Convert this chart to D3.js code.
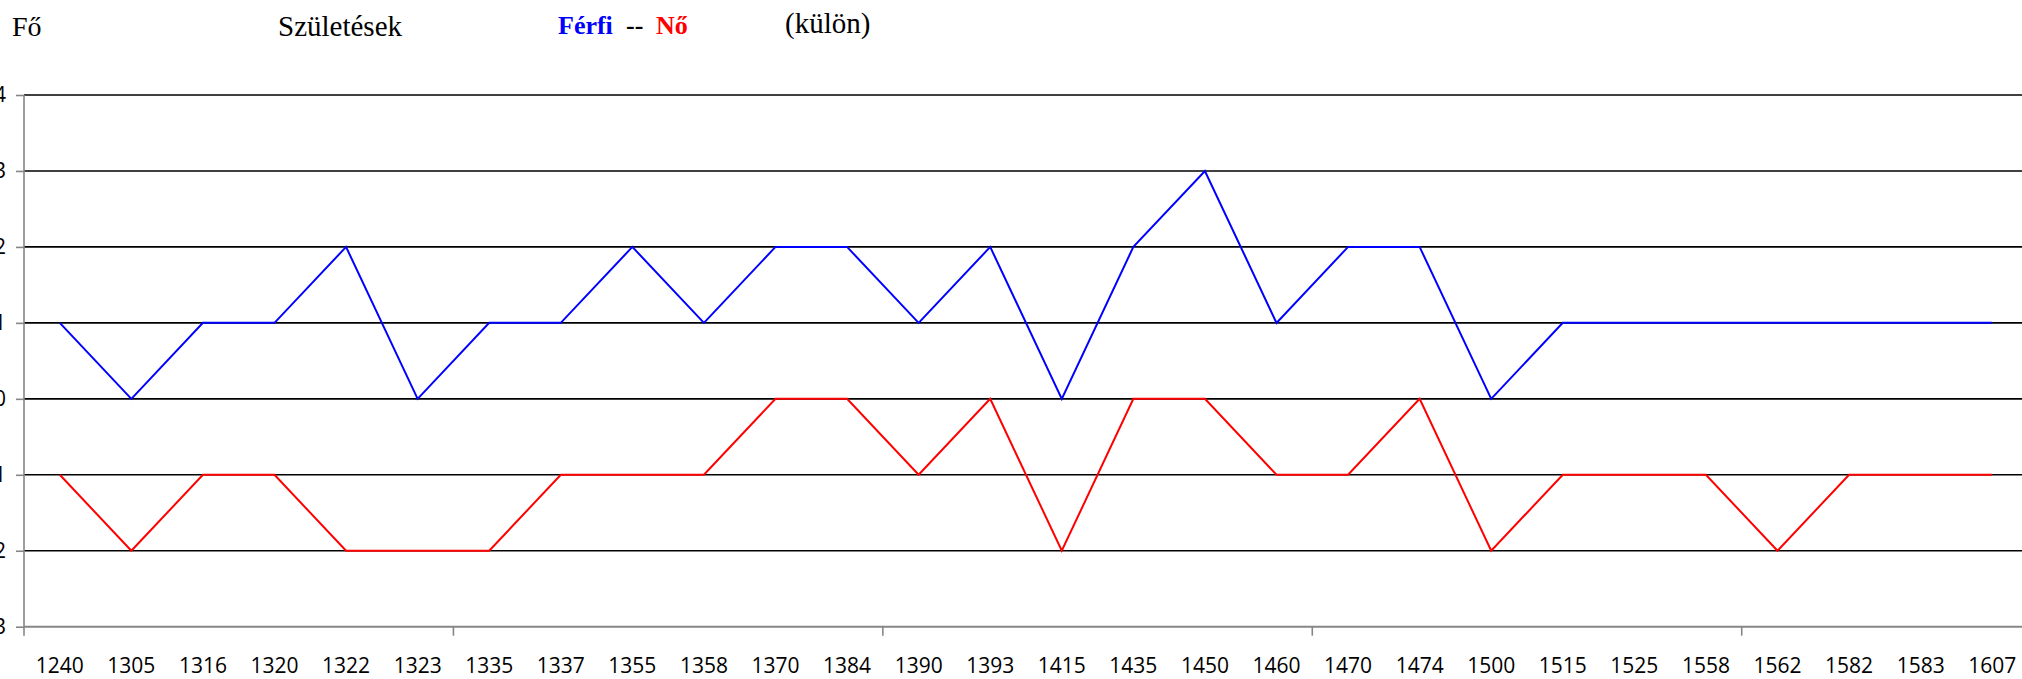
<!DOCTYPE html>
<html>
<head>
<meta charset="utf-8">
<script src="https://cdn.jsdelivr.net/npm/d3@7"></script>
<style>
  html, body { margin: 0; padding: 0; background: #fff; overflow: hidden; }
  svg { display: block; }
</style>
</head>
<body>
<svg id="chart" width="2022" height="679"></svg>
<script>
// Births per year, men (positive) and women (negative)
const years = [1240, 1305, 1316, 1320, 1322, 1323, 1335, 1337, 1355, 1358, 1370, 1384, 1390, 1393,
               1415, 1435, 1450, 1460, 1470, 1474, 1500, 1515, 1525, 1558, 1562, 1582, 1583, 1607];
const ferfi = [1, 0, 1, 1, 2, 0, 1, 1, 2, 1, 2, 2, 1, 2, 0, 2, 3, 1, 2, 2, 0, 1, 1, 1, 1, 1, 1, 1];
const no    = [-1, -2, -1, -1, -2, -2, -2, -1, -1, -1, 0, 0, -1, 0, -2, 0, 0, -1, -1, 0, -2, -1, -1, -1, -2, -1, -1, -1];
const yTicks = [-3, -2, -1, 0, 1, 2, 3, 4];

const svg = d3.select("#chart");
const W = 2022;
const plotLeft = 24, plotTop = 95, plotBottom = 626.7;

const x = d3.scaleBand().domain(years).range([plotLeft, 2028]).paddingInner(0).paddingOuter(0);
const y = d3.scaleLinear().domain([-3, 4]).range([plotBottom, plotTop]);

// horizontal gridlines
svg.append("g").selectAll("line")
  .data(yTicks.filter(v => v > -3))
  .join("line")
  .attr("x1", plotLeft).attr("x2", W)
  .attr("y1", d => y(d)).attr("y2", d => y(d))
  .attr("stroke", "#000").attr("stroke-width", 1.6);

// y axis: gray line, short ticks, labels running past the left edge of the page
const yAxis = d3.axisLeft(y).tickValues(yTicks).tickSize(8).tickFormat(d3.format("d"));
const gy = svg.append("g").attr("transform", `translate(${plotLeft},0)`).call(yAxis);
gy.select(".domain").remove();
gy.selectAll(".tick line").attr("stroke", "#868686").attr("stroke-width", 1.6);
gy.selectAll(".tick text")
  .attr("x", -18)
  .attr("font-family", "'Open Sans', sans-serif").attr("font-size", 21).attr("fill", "#000");
svg.append("line")
  .attr("x1", plotLeft).attr("x2", plotLeft).attr("y1", plotTop).attr("y2", plotBottom + 9)
  .attr("stroke", "#868686").attr("stroke-width", 1.6);

// x axis: gray baseline with tick marks every sixth category boundary
svg.append("line")
  .attr("x1", plotLeft).attr("x2", W).attr("y1", plotBottom).attr("y2", plotBottom)
  .attr("stroke", "#868686").attr("stroke-width", 2);
const boundaries = years.filter((d, i) => i > 0 && i % 6 === 0);
svg.append("g").selectAll("line")
  .data(boundaries)
  .join("line")
  .attr("x1", d => x(d)).attr("x2", d => x(d))
  .attr("y1", plotBottom).attr("y2", plotBottom + 9)
  .attr("stroke", "#868686").attr("stroke-width", 1.6);

const xAxis = d3.axisBottom(x).tickSize(0).tickPadding(0);
const gx = svg.append("g").attr("transform", `translate(0,${plotBottom})`).call(xAxis);
gx.select(".domain").remove();
gx.selectAll(".tick text")
  .attr("y", 46).attr("dy", null)
  .attr("font-family", "'Open Sans', sans-serif").attr("font-size", 21).attr("fill", "#000");

// series lines
const line = d3.line().x((d, i) => x(years[i]) + x.bandwidth() / 2).y(d => y(d));
svg.append("path").datum(ferfi).attr("d", line)
  .attr("fill", "none").attr("stroke", "#0000ff").attr("stroke-width", 2);
svg.append("path").datum(no).attr("d", line)
  .attr("fill", "none").attr("stroke", "#ff0000").attr("stroke-width", 2);

// heading texts
const serif = "'Liberation Serif', 'Times New Roman', serif";
svg.append("text").attr("x", 12).attr("y", 36).attr("font-family", serif).attr("font-size", 28).text("Fő");
svg.append("text").attr("x", 278).attr("y", 36).attr("font-family", serif).attr("font-size", 29).text("Születések");
const leg = svg.append("text").attr("x", 558).attr("y", 34).attr("font-family", serif).attr("font-size", 26);
leg.append("tspan").attr("font-weight", "bold").attr("fill", "#0000ff").text("Férfi");
leg.append("tspan").attr("x", 626).attr("font-weight", "bold").attr("fill", "#000").text("--");
leg.append("tspan").attr("x", 656).attr("font-weight", "bold").attr("fill", "#ff0000").text("Nő");
svg.append("text").attr("x", 785).attr("y", 33).attr("font-family", serif).attr("font-size", 29).text("(külön)");
</script>
</body>
</html>
